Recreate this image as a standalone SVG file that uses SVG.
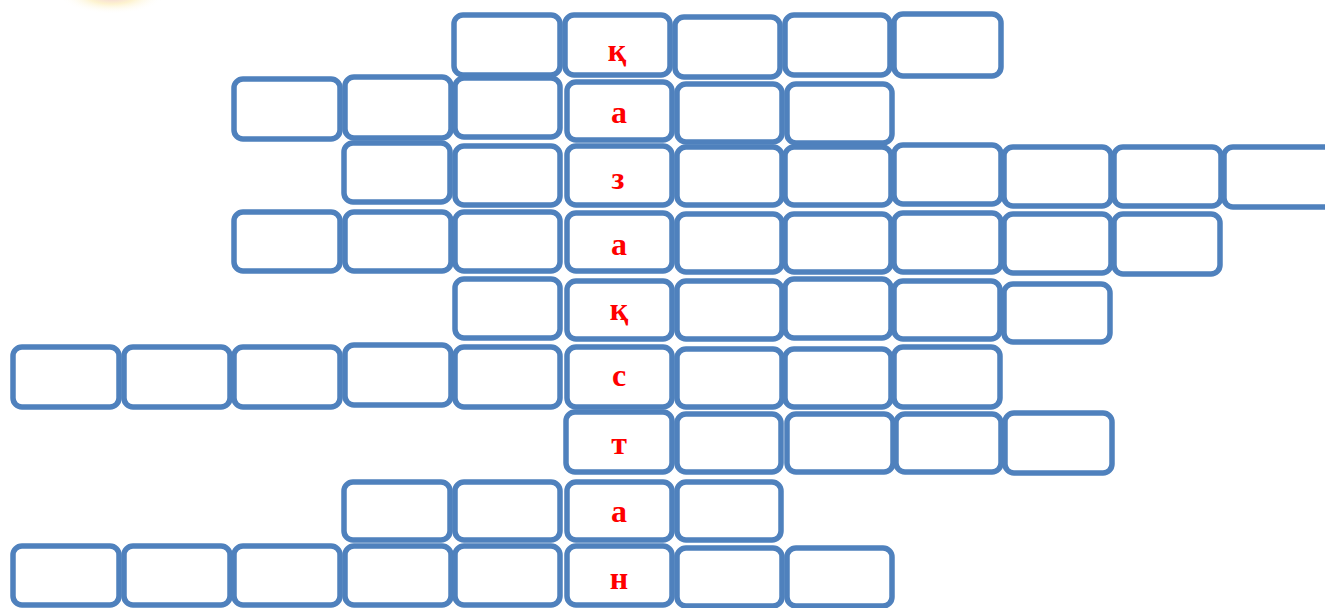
<svg xmlns="http://www.w3.org/2000/svg" width="1325" height="608" viewBox="0 0 1325 608">
<defs>
<radialGradient id="glow" cx="0.5" cy="0.5" r="0.5">
<stop offset="0" stop-color="#e8a0b8" stop-opacity="0.55"/>
<stop offset="0.45" stop-color="#fbe7a0" stop-opacity="0.5"/>
<stop offset="1" stop-color="#ffffff" stop-opacity="0"/>
</radialGradient>
</defs>
<style>
.b{fill:#ffffff;stroke:#4f81bd;stroke-width:5.5;}
.t{font-family:"Liberation Serif","Times New Roman",serif;font-weight:bold;font-size:32px;fill:#ff0000;text-anchor:middle;}
</style>
<rect width="1325" height="608" fill="#ffffff"/>
<ellipse cx="112" cy="-4" rx="52" ry="18" fill="url(#glow)"/>
<g id="row1">
<rect class="b" x="454" y="15" width="106" height="60" rx="9"/>
<rect class="b" x="565" y="15" width="105" height="60" rx="9"/>
<rect class="b" x="675" y="17" width="105" height="60" rx="9"/>
<rect class="b" x="785" y="15" width="105" height="60" rx="9"/>
<rect class="b" x="894" y="14" width="107" height="62" rx="9"/>
<text class="t" x="617" y="61">қ</text>
</g>
<g id="row2">
<rect class="b" x="234" y="79" width="106" height="60" rx="9"/>
<rect class="b" x="345" y="77" width="106" height="61" rx="9"/>
<rect class="b" x="455" y="78" width="105" height="59" rx="9"/>
<rect class="b" x="567" y="82" width="105" height="58" rx="9"/>
<rect class="b" x="677" y="84" width="105" height="58" rx="9"/>
<rect class="b" x="787" y="84" width="105" height="59" rx="9"/>
<text class="t" x="619" y="123">а</text>
</g>
<g id="row3">
<rect class="b" x="344" y="143" width="106" height="59" rx="9"/>
<rect class="b" x="455" y="146" width="105" height="59" rx="9"/>
<rect class="b" x="567" y="146" width="105" height="59" rx="9"/>
<rect class="b" x="677" y="147" width="105" height="58" rx="9"/>
<rect class="b" x="785" y="147" width="106" height="58" rx="9"/>
<rect class="b" x="894" y="145" width="107" height="59" rx="9"/>
<rect class="b" x="1004" y="147" width="107" height="59" rx="9"/>
<rect class="b" x="1114" y="147" width="107" height="59" rx="9"/>
<rect class="b" x="1224" y="147" width="110" height="60" rx="9"/>
<text class="t" x="618" y="189">з</text>
</g>
<g id="row4">
<rect class="b" x="234" y="212" width="106" height="59" rx="9"/>
<rect class="b" x="345" y="212" width="106" height="59" rx="9"/>
<rect class="b" x="455" y="212" width="105" height="59" rx="9"/>
<rect class="b" x="567" y="213" width="105" height="58" rx="9"/>
<rect class="b" x="677" y="214" width="105" height="58" rx="9"/>
<rect class="b" x="785" y="214" width="106" height="58" rx="9"/>
<rect class="b" x="894" y="213" width="107" height="59" rx="9"/>
<rect class="b" x="1004" y="214" width="107" height="59" rx="9"/>
<rect class="b" x="1114" y="214" width="106" height="60" rx="9"/>
<text class="t" x="619" y="255">а</text>
</g>
<g id="row5">
<rect class="b" x="455" y="279" width="105" height="59" rx="9"/>
<rect class="b" x="567" y="281" width="105" height="58" rx="9"/>
<rect class="b" x="677" y="281" width="105" height="58" rx="9"/>
<rect class="b" x="785" y="279" width="106" height="59" rx="9"/>
<rect class="b" x="894" y="281" width="106" height="58" rx="9"/>
<rect class="b" x="1004" y="284" width="106" height="58" rx="9"/>
<text class="t" x="619" y="320">қ</text>
</g>
<g id="row6">
<rect class="b" x="13" y="347" width="106" height="60" rx="9"/>
<rect class="b" x="124" y="347" width="106" height="60" rx="9"/>
<rect class="b" x="234" y="347" width="106" height="60" rx="9"/>
<rect class="b" x="345" y="345" width="106" height="60" rx="9"/>
<rect class="b" x="455" y="347" width="105" height="60" rx="9"/>
<rect class="b" x="567" y="347" width="105" height="60" rx="9"/>
<rect class="b" x="677" y="349" width="105" height="58" rx="9"/>
<rect class="b" x="785" y="349" width="106" height="58" rx="9"/>
<rect class="b" x="894" y="347" width="106" height="60" rx="9"/>
<text class="t" x="619" y="386">с</text>
</g>
<g id="row7">
<rect class="b" x="566" y="412" width="106" height="60" rx="9"/>
<rect class="b" x="677" y="414" width="104" height="58" rx="9"/>
<rect class="b" x="787" y="414" width="106" height="58" rx="9"/>
<rect class="b" x="896" y="414" width="105" height="58" rx="9"/>
<rect class="b" x="1005" y="413" width="107" height="60" rx="9"/>
<text class="t" x="619" y="454">т</text>
</g>
<g id="row8">
<rect class="b" x="344" y="482" width="106" height="58" rx="9"/>
<rect class="b" x="455" y="482" width="105" height="58" rx="9"/>
<rect class="b" x="567" y="482" width="105" height="58" rx="9"/>
<rect class="b" x="677" y="482" width="104" height="58" rx="9"/>
<text class="t" x="619" y="522">а</text>
</g>
<g id="row9">
<rect class="b" x="13" y="546" width="106" height="59" rx="9"/>
<rect class="b" x="124" y="546" width="106" height="59" rx="9"/>
<rect class="b" x="234" y="546" width="106" height="59" rx="9"/>
<rect class="b" x="345" y="546" width="106" height="59" rx="9"/>
<rect class="b" x="455" y="546" width="105" height="59" rx="9"/>
<rect class="b" x="567" y="546" width="105" height="59" rx="9"/>
<rect class="b" x="677" y="548" width="105" height="58" rx="9"/>
<rect class="b" x="787" y="548" width="105" height="58" rx="9"/>
<text class="t" x="619" y="589">н</text>
</g>
<g id="connectors"></g>
</svg>
